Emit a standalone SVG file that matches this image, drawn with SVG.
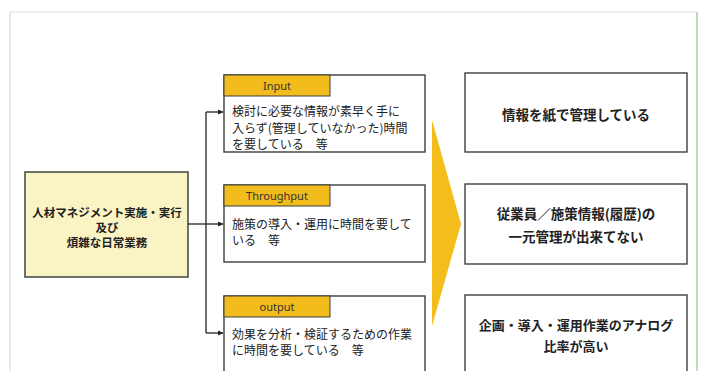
<svg xmlns="http://www.w3.org/2000/svg" width="702" height="371" viewBox="0 0 702 371">
<defs>
<marker id="ah" markerWidth="6" markerHeight="6" refX="5" refY="3" orient="auto" markerUnits="userSpaceOnUse">
<path d="M0,0.5 L5.5,3 L0,5.5 z" fill="#222"/>
</marker>
<style>
.box{fill:#fff;stroke:#3c4038;stroke-width:1.4}
.tab{fill:#f2bc1c;stroke:#3c4038;stroke-width:1}
.jp{font-family:"Noto Sans CJK JP","Noto Sans",sans-serif;fill:#222}
.body{font-size:12px}
.tabt{font-family:"Noto Sans","Liberation Sans",sans-serif;font-size:11px;fill:#333;text-anchor:middle}
.bold{font-weight:bold;text-anchor:middle}
.conn{fill:none;stroke:#222;stroke-width:1.3}
</style>
</defs>
<rect width="702" height="371" fill="#fff"/>
<path d="M10,371 L10,12 L697,12 L697,371" fill="none" stroke="#dcdcdc" stroke-width="1.2"/>
<line x1="697" y1="12" x2="697" y2="371" stroke="#b5d6a6" stroke-width="1.5"/>

<g id="main">
<rect x="25" y="172" width="163" height="105" fill="#faf4c4" stroke="#4a5046" stroke-width="1.6"/>
<text class="jp bold" font-size="11.5" x="107" y="217">人材マネジメント実施・実行</text>
<text class="jp bold" font-size="11.5" x="107" y="232">及び</text>
<text class="jp bold" font-size="11.5" x="107" y="247">煩雑な日常業務</text>
</g>

<g id="connectors">
<path class="conn" d="M188,224 H206"/>
<path class="conn" d="M206,112 V333"/>
<path class="conn" d="M206,112 H223" marker-end="url(#ah)"/>
<path class="conn" d="M206,224 H223" marker-end="url(#ah)"/>
<path class="conn" d="M206,333 H223" marker-end="url(#ah)"/>
</g>

<g id="input">
<rect class="box" x="224" y="75" width="201" height="77"/>
<rect class="tab" x="224" y="75" width="106" height="21"/>
<text class="tabt" x="277" y="90">Input</text>
<text class="jp body" x="232" y="116">検討に必要な情報が素早く手に</text>
<text class="jp body" x="232" y="132.5">入らず(管理していなかった)時間</text>
<text class="jp body" x="232" y="149">を要している　等</text>
</g>

<g id="throughput">
<rect class="box" x="224" y="185" width="201" height="77"/>
<rect class="tab" x="224" y="185" width="106" height="21"/>
<text class="tabt" x="277" y="200">Throughput</text>
<text class="jp body" x="232" y="229">施策の導入・運用に時間を要して</text>
<text class="jp body" x="232" y="245">いる　等</text>
</g>

<g id="output">
<rect class="box" x="224" y="296" width="201" height="85"/>
<rect class="tab" x="224" y="296" width="106" height="21"/>
<text class="tabt" x="277" y="311">output</text>
<text class="jp body" x="232" y="339">効果を分析・検証するための作業</text>
<text class="jp body" x="232" y="355">に時間を要している　等</text>
</g>

<g id="chevron">
<polygon points="432,120 461,224 432,326" fill="#f3be1b"/>
</g>

<g id="r1">
<rect class="box" x="465" y="73" width="222" height="79"/>
<text class="jp bold" font-size="13.5" x="576" y="120">情報を紙で管理している</text>
</g>

<g id="r2">
<rect class="box" x="465" y="184" width="222" height="80"/>
<text class="jp bold" font-size="13.5" x="576" y="219">従業員／施策情報(履歴)の</text>
<text class="jp bold" font-size="13.5" x="576" y="242">一元管理が出来てない</text>
</g>

<g id="r3">
<rect class="box" x="465" y="295" width="222" height="90"/>
<text class="jp bold" font-size="13" x="576" y="330">企画・導入・運用作業のアナログ</text>
<text class="jp bold" font-size="13" x="576" y="351">比率が高い</text>
</g>
</svg>
